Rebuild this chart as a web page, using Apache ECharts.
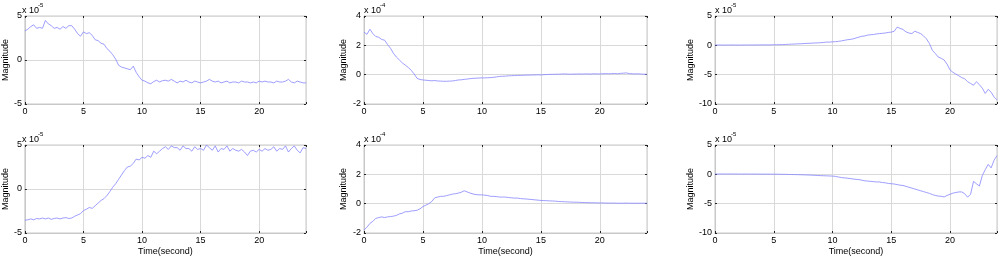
<!DOCTYPE html>
<html>
<head>
<meta charset="utf-8">
<script src="https://cdn.jsdelivr.net/npm/echarts@6/dist/echarts.min.js"></script>
<style>
html, body { margin: 0; padding: 0; background: #fff; }
#chart { width: 1000px; height: 259px; }
</style>
</head>
<body>
<div id="chart"></div>
<script>
// sample times (seconds)
const time = [
  0, 0.25, 0.5, 0.75, 1, 1.25, 1.5, 1.75, 2, 2.25, 2.5, 2.75, 3, 3.25, 3.5, 3.75,
  4, 4.25, 4.5, 4.75, 5, 5.25, 5.5, 5.75, 6, 6.25, 6.5, 6.75, 7, 7.25, 7.5, 7.75,
  8, 8.25, 8.5, 8.75, 9, 9.25, 9.5, 9.75, 10, 10.25, 10.5, 10.75, 11, 11.25, 11.5, 11.75,
  12, 12.25, 12.5, 12.75, 13, 13.25, 13.5, 13.75, 14, 14.25, 14.5, 14.75, 15, 15.25, 15.5, 15.75,
  16, 16.25, 16.5, 16.75, 17, 17.25, 17.5, 17.75, 18, 18.25, 18.5, 18.75, 19, 19.25, 19.5, 19.75,
  20, 20.25, 20.5, 20.75, 21, 21.25, 21.5, 21.75, 22, 22.25, 22.5, 22.75, 23, 23.25, 23.5, 23.75,
  24
];

// top-left, x 10^-5
const s1 = [
  3.3, 3.5, 3.8, 4.0, 3.6, 3.7, 3.6, 4.5, 4.1, 3.9, 3.6, 3.7, 3.5, 3.8, 3.6, 3.9,
  3.9, 3.5, 3.0, 2.7, 3.2, 3.0, 3.1, 2.8, 2.3, 2.2, 1.9, 1.8, 1.3, 1.0, 0.6, 0.1,
  -0.6, -0.8, -0.9, -1.0, -1.1, -0.7, -1.4, -1.9, -2.3, -2.4, -2.6, -2.7, -2.45, -2.3, -2.5, -2.35,
  -2.3, -2.4, -2.2, -2.4, -2.6, -2.4, -2.5, -2.3, -2.5, -2.6, -2.4, -2.5, -2.6, -2.5, -2.4, -2.2,
  -2.4, -2.5, -2.4, -2.6, -2.5, -2.4, -2.6, -2.5, -2.5, -2.6, -2.4, -2.5, -2.5, -2.6, -2.5, -2.6,
  -2.4, -2.5, -2.4, -2.5, -2.5, -2.6, -2.4, -2.5, -2.5, -2.4, -2.2, -2.5, -2.6, -2.4, -2.5, -2.6,
  -2.6
];

// top-middle, x 10^-4
const s2 = [
  2.9, 2.75, 3.1, 2.8, 2.6, 2.55, 2.4, 2.35, 2.05, 1.8, 1.45, 1.2, 1.0, 0.8, 0.65, 0.5,
  0.3, 0.05, -0.25, -0.33, -0.36, -0.38, -0.4, -0.42, -0.4, -0.43, -0.44, -0.45, -0.45, -0.44, -0.43, -0.4,
  -0.36, -0.35, -0.32, -0.3, -0.27, -0.25, -0.24, -0.23, -0.22, -0.22, -0.21, -0.2, -0.18, -0.15, -0.12, -0.11,
  -0.1, -0.08, -0.07, -0.06, -0.05, -0.05, -0.04, -0.03, -0.03, -0.02, -0.02, -0.01, -0.02, 0.0, 0.01, 0.02,
  0.02, 0.03, 0.03, 0.04, 0.05, 0.04, 0.03, 0.04, 0.04, 0.05, 0.04, 0.05, 0.05, 0.04, 0.06, 0.05,
  0.05, 0.06, 0.07, 0.06, 0.07, 0.08, 0.06, 0.09, 0.1, 0.12, 0.07, 0.06, 0.05, 0.06, 0.04, 0.03,
  0.02
];

// top-right, x 10^-5
const s3 = [
  0.05, 0.06, 0.05, 0.04, 0.05, 0.05, 0.06, 0.05, 0.04, 0.05, 0.05, 0.06, 0.06, 0.05, 0.07, 0.06,
  0.07, 0.08, 0.07, 0.08, 0.1, 0.1, 0.12, 0.12, 0.15, 0.17, 0.2, 0.22, 0.25, 0.26, 0.3, 0.32,
  0.35, 0.37, 0.4, 0.42, 0.45, 0.5, 0.55, 0.55, 0.6, 0.62, 0.68, 0.75, 0.85, 0.95, 1.0, 1.1,
  1.25, 1.4, 1.55, 1.6, 1.75, 1.8, 1.85, 1.95, 2.0, 2.05, 2.1, 2.2, 2.25, 2.4, 3.1, 2.9,
  2.7, 2.3, 2.1, 2.0, 2.4, 2.2, 2.0, 1.6, 1.1, 0.3, -0.85, -1.4, -2.0, -2.2, -2.5, -3.2,
  -4.2, -4.6, -4.9, -5.2, -5.5, -5.7, -6.2, -6.5, -6.8, -6.2, -6.7, -7.3, -8.2, -7.5, -8.0, -8.8,
  -9.3
];

// bottom-left, x 10^-5
const s4 = [
  -3.55, -3.5, -3.4, -3.5, -3.35, -3.4, -3.3, -3.4, -3.3, -3.45, -3.35, -3.3, -3.4, -3.3, -3.25, -3.35,
  -3.3, -3.1, -2.95, -2.8, -2.45, -2.3, -2.1, -2.2, -1.9, -1.6, -1.3, -1.1, -0.75, -0.3, 0.2, 0.6,
  1.1, 1.6, 2.1, 2.5, 2.6, 2.9, 3.4, 3.3, 3.6, 3.5, 3.8, 3.6, 4.3, 4.0, 4.3, 4.6,
  4.8, 4.5, 4.9, 4.7, 4.7, 4.4, 4.9, 4.6, 4.6, 4.3, 4.8, 4.5, 4.6, 4.4, 5.0, 4.7,
  4.4, 4.9, 4.2, 4.6, 4.5, 4.9, 4.3, 4.6, 4.4, 4.3, 4.5, 4.2, 3.8, 4.3, 4.4, 4.2,
  4.5, 4.3, 4.6, 4.4, 4.5, 4.8, 4.3, 4.6, 4.5, 4.9, 4.2, 4.6, 4.9, 4.4, 4.1, 4.7,
  4.6
];

// bottom-middle, x 10^-4
const s5 = [
  -1.8, -1.6, -1.35, -1.2, -1.0, -0.95, -0.9, -0.95, -0.9, -0.88, -0.85, -0.8, -0.7, -0.65, -0.55, -0.55,
  -0.5, -0.48, -0.45, -0.35, -0.2, -0.1, 0.0, 0.15, 0.4, 0.45, 0.5, 0.5, 0.55, 0.6, 0.65, 0.68,
  0.72, 0.78, 0.88, 0.8, 0.72, 0.66, 0.62, 0.6, 0.6, 0.58, 0.55, 0.5, 0.5, 0.48, 0.45, 0.45,
  0.45, 0.42, 0.4, 0.38, 0.38, 0.35, 0.33, 0.32, 0.3, 0.28, 0.26, 0.24, 0.22, 0.21, 0.2, 0.19,
  0.18, 0.17, 0.15, 0.14, 0.13, 0.12, 0.11, 0.1, 0.1, 0.09, 0.08, 0.07, 0.07, 0.06, 0.06, 0.05,
  0.05, 0.05, 0.04, 0.04, 0.04, 0.04, 0.03, 0.03, 0.03, 0.04, 0.03, 0.03, 0.03, 0.03, 0.03, 0.03,
  0.03
];

// bottom-right, x 10^-5
const s6 = [
  0.05, 0.05, 0.06, 0.05, 0.05, 0.06, 0.05, 0.05, 0.05, 0.04, 0.05, 0.05, 0.04, 0.05, 0.04, 0.04,
  0.03, 0.04, 0.03, 0.03, 0.02, 0.02, 0.01, 0.0, 0.0, -0.02, -0.03, -0.04, -0.05, -0.07, -0.08, -0.1,
  -0.12, -0.14, -0.17, -0.2, -0.22, -0.24, -0.26, -0.28, -0.3, -0.35, -0.45, -0.55, -0.6, -0.65, -0.72, -0.8,
  -0.85, -0.9, -1.0, -1.1, -1.15, -1.2, -1.25, -1.3, -1.3, -1.4, -1.45, -1.55, -1.6, -1.65, -1.75, -1.85,
  -1.9, -2.05, -2.2, -2.35, -2.5, -2.65, -2.8, -2.95, -3.1, -3.25, -3.45, -3.6, -3.7, -3.75, -3.85, -3.6,
  -3.4, -3.2, -3.1, -3.0, -3.0, -3.3, -3.9, -3.4, -1.2, -1.6, -2.0, -0.2, 0.8, 1.7, 1.1, 2.4,
  3.2
];

const xTicks = [0, 5, 10, 15, 20];

const panels = [
  { data: s1, min: -5, max: 5, step: 5, exp: '-5', left: 22, top: 16, width: 284, gap: 13 },
  { data: s2, min: -2, max: 4, step: 2, exp: '-4', left: 364, top: 16, width: 283, gap: 16 },
  { data: s3, min: -10, max: 5, step: 5, exp: '-5', left: 715, top: 16, width: 283, gap: 20 },
  { data: s4, min: -5, max: 5, step: 5, exp: '-5', left: 22, top: 145, width: 284, gap: 13 },
  { data: s5, min: -2, max: 4, step: 2, exp: '-4', left: 364, top: 145, width: 283, gap: 16 },
  { data: s6, min: -10, max: 5, step: 5, exp: '-5', left: 715, top: 145, width: 283, gap: 20 }
];

const font = 'Liberation Sans, Arial, sans-serif';
const gridColor = '#d9d9d9';
const tickStyle = { show: true, inside: true, length: 2, lineStyle: { color: '#222' } };

const grid = [], xAxis = [], yAxis = [], series = [], graphic = [];

panels.forEach((p, i) => {
  grid.push({ left: p.left, top: p.top, width: p.width, height: 88, show: true, borderColor: '#c8c8c8', borderWidth: 1 });
  const bottomRow = i >= 3;
  xAxis.push({
    type: 'value', gridIndex: i, min: 0, max: 24, interval: 5, position: 'bottom',
    name: bottomRow ? 'Time(second)' : '',
    nameLocation: 'middle', nameGap: 14,
    nameTextStyle: { fontSize: 9, fontFamily: font, color: '#000' },
    axisLine: { show: true, onZero: false, lineStyle: { color: '#c8c8c8' } },
    axisTick: tickStyle,
    axisLabel: { fontSize: 9, fontFamily: font, color: '#000', margin: 3,
      formatter: v => (xTicks.indexOf(v) >= 0 ? String(v) : '') },
    splitLine: { show: true, lineStyle: { color: gridColor, width: 1 } }
  });
  xAxis.push({
    type: 'value', gridIndex: i, min: 0, max: 24, interval: 5, position: 'top',
    axisLine: { show: false, onZero: false }, axisTick: tickStyle, axisLabel: { show: false }, splitLine: { show: false }
  });
  yAxis.push({
    type: 'value', gridIndex: i, min: p.min, max: p.max, interval: p.step, position: 'left',
    name: 'Magnitude', nameLocation: 'middle', nameGap: p.gap,
    nameTextStyle: { fontSize: 9, fontFamily: font, color: '#000' },
    axisLine: { show: true, onZero: false, lineStyle: { color: '#c8c8c8' } },
    axisTick: tickStyle,
    axisLabel: { fontSize: 9, fontFamily: font, color: '#000', margin: 3 },
    splitLine: { show: true, lineStyle: { color: gridColor, width: 1 } }
  });
  yAxis.push({
    type: 'value', gridIndex: i, min: p.min, max: p.max, interval: p.step, position: 'right',
    axisLine: { show: false, onZero: false }, axisTick: tickStyle, axisLabel: { show: false }, splitLine: { show: false }
  });
  series.push({
    type: 'line', xAxisIndex: 2 * i, yAxisIndex: 2 * i,
    data: time.map((t, k) => [t, p.data[k]]),
    showSymbol: false, symbol: 'none',
    lineStyle: { color: '#8585ff', width: 0.8 },
    animation: false
  });
  graphic.push({
    type: 'text', left: p.left, top: p.top - 10,
    style: { text: 'x 10', fontSize: 9, fontFamily: font, fill: '#000' }
  });
  graphic.push({
    type: 'text', left: p.left + 16, top: p.top - 14,
    style: { text: p.exp, fontSize: 6, fontFamily: font, fill: '#000' }
  });
});

const chart = echarts.init(document.getElementById('chart'));
chart.setOption({
  animation: false,
  backgroundColor: '#fff',
  grid: grid,
  xAxis: xAxis,
  yAxis: yAxis,
  series: series,
  graphic: graphic
});
</script>
</body>
</html>
